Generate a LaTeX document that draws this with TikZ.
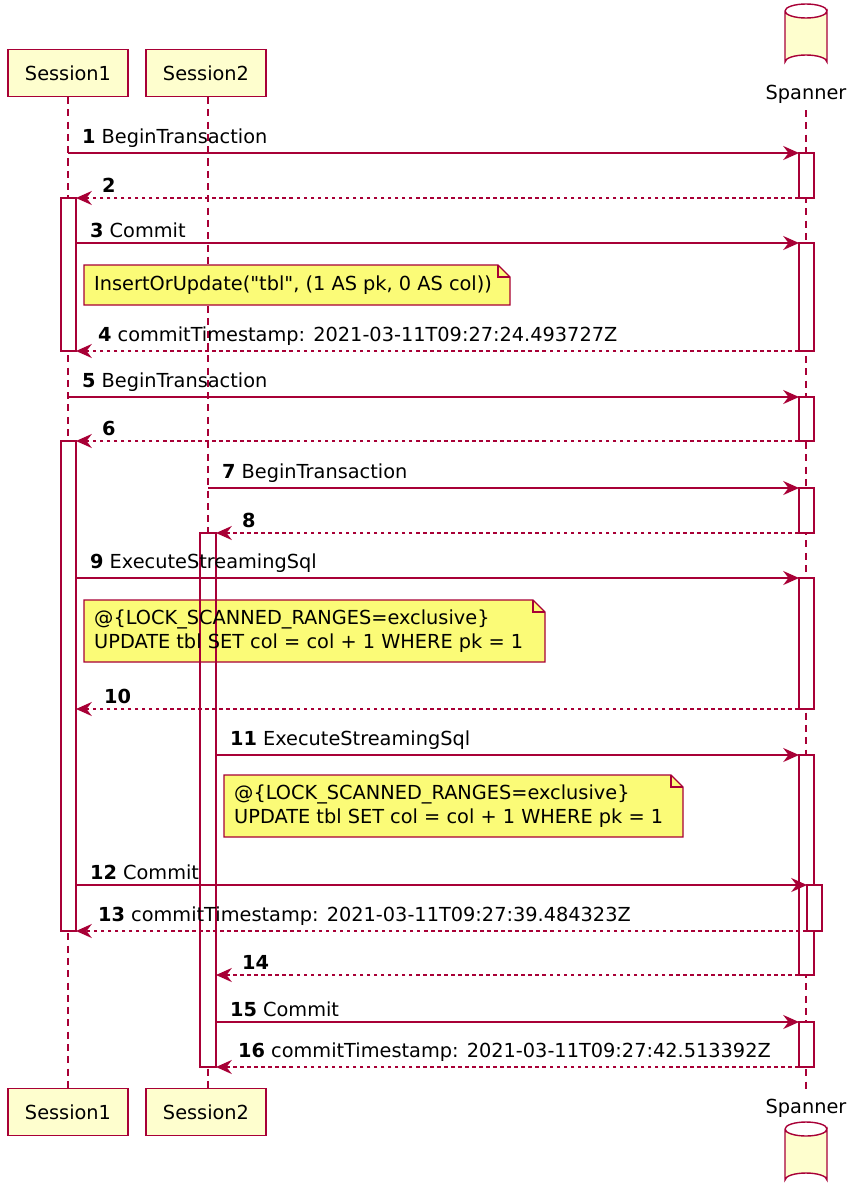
\documentclass[tikz,border=0pt]{standalone}
\usepackage{fontspec}
\setmainfont{DejaVu Sans}
\usetikzlibrary{arrows.meta,calc}
\definecolor{umlred}{HTML}{A80036}
\definecolor{umlbox}{HTML}{FEFECE}
\definecolor{umlnote}{HTML}{FBFB77}
\tikzset{
  partbox/.style={draw=umlred, fill=umlbox, line width=1pt, minimum width=2.4cm, minimum height=0.94cm},
  lifeline/.style={umlred, dash pattern=on 4pt off 3pt, line width=0.7pt},
  actbar/.style={draw=umlred, fill=white, line width=0.8pt},
  call/.style={umlred, line width=0.8pt, -{Stealth[length=9pt,width=8pt,inset=3pt]}},
  reply/.style={umlred, line width=0.8pt, dash pattern=on 2pt off 2pt, -{Stealth[length=9pt,width=8pt,inset=3pt]}},
  msglabel/.style={anchor=south west, inner sep=1pt},
  notebox/.style={draw=umlred, fill=umlnote, line width=0.7pt}
}
\newcommand{\notepoly}[4]{% x1 y1 x2 y2
  \filldraw[notebox] (#1,#2) -- (#3-12,#2) -- (#3,#2+12) -- (#3,#4) -- (#1,#4) -- cycle;
  \draw[umlred, line width=0.7pt] (#3-12,#2) -- (#3-12,#2+12) -- (#3,#2+12);}
\newcommand{\cylinder}[2]{% cx top-y
  \filldraw[draw=umlred, fill=umlbox, line width=0.8pt]
    (#1-21,#2+7) -- (#1-21,#2+58) arc[start angle=180, end angle=360, x radius=21, y radius=7]
    -- (#1+21,#2+7) arc[start angle=0, end angle=180, x radius=21, y radius=7];
  \draw[umlred, line width=0.8pt] (#1-21,#2+7) arc[start angle=180, end angle=360, x radius=21, y radius=7];}
\begin{document}
\begin{tikzpicture}[x=0.02cm, y=-0.02cm, font=\fontsize{11}{13.5}\selectfont]
\useasboundingbox (0,0) rectangle (856,1200);
% lifelines
\draw[lifeline] (68,97) -- (68,1090);
\draw[lifeline] (208,97) -- (208,1090);
\draw[lifeline] (806,110) -- (806,1090);
% participants
\node[partbox] (s1top) at (68,73) {Session1};
\node[partbox] (s2top) at (206,73) {Session2};
\node[partbox] (s1bot) at (68,1112) {Session1};
\node[partbox] (s2bot) at (206,1112) {Session2};
\cylinder{806}{4}
\node (sptop) at (806,94) {Spanner};
\node (spbot) at (806,1108) {Spanner};
\cylinder{806}{1122}
% activations
\foreach \a/\b in {198/351, 441/931}
  \draw[actbar] (61,\a) rectangle (76,\b);
\fill[white] (200,533) rectangle (216,1067);
\foreach \a/\b in {153/198, 243/351, 397/441, 488/533, 578/709, 755/975, 1022/1067}
  \draw[actbar] (799,\a) rectangle (814,\b);
\draw[actbar] (807,885) rectangle (822,931);
% notes
\notepoly{84}{265}{510}{305}
\notepoly{84}{600}{545}{662}
\notepoly{224}{775}{683}{837}
\draw[umlred, line width=0.8pt] (200,533) rectangle (216,1067);
\node[anchor=west] (n1) at (88,285) {InsertOrUpdate(\textquotedbl tbl\textquotedbl, (1 AS pk, 0 AS col))};
\node[anchor=west, align=left] (n2) at (88,631) {@\{LOCK\_SCANNED\_RANGES=exclusive\}\\UPDATE tbl SET col = col + 1 WHERE pk = 1};
\node[anchor=west, align=left] (n3) at (228,806) {@\{LOCK\_SCANNED\_RANGES=exclusive\}\\UPDATE tbl SET col = col + 1 WHERE pk = 1};
% messages
\foreach \y/\xa/\xb in {153/68/799, 243/76/799, 397/68/799, 488/208/799, 578/76/799, 755/216/799,
  885/76/807, 1022/216/799}
  \draw[call] (\xa,\y) -- (\xb,\y);
\foreach \y/\xa/\xb in {198/799/76, 351/799/76, 441/799/76, 533/799/216, 709/799/76, 931/807/76,
  975/799/216, 1067/799/216}
  \draw[reply] (\xa,\y) -- (\xb,\y);
% labels
\foreach \y/\x/\t in {153/80/{\textbf{1} BeginTransaction}, 198/100/{\textbf{2}},
  243/88/{\textbf{3} Commit}, 351/96/{\textbf{4} commitTimestamp: 2021-03-11T09:27:24.493727Z},
  397/80/{\textbf{5} BeginTransaction}, 441/100/{\textbf{6}},
  488/220/{\textbf{7} BeginTransaction}, 533/240/{\textbf{8}},
  578/88/{\textbf{9} ExecuteStreamingSql}, 709/102/{\textbf{10}},
  755/228/{\textbf{11} ExecuteStreamingSql}, 885/88/{\textbf{12} Commit},
  931/96/{\textbf{13} commitTimestamp: 2021-03-11T09:27:39.484323Z}, 975/240/{\textbf{14}},
  1022/228/{\textbf{15} Commit}, 1067/236/{\textbf{16} commitTimestamp: 2021-03-11T09:27:42.513392Z}}
  \node[msglabel] at (\x,\y-3) {\t};
\end{tikzpicture}
\end{document}
